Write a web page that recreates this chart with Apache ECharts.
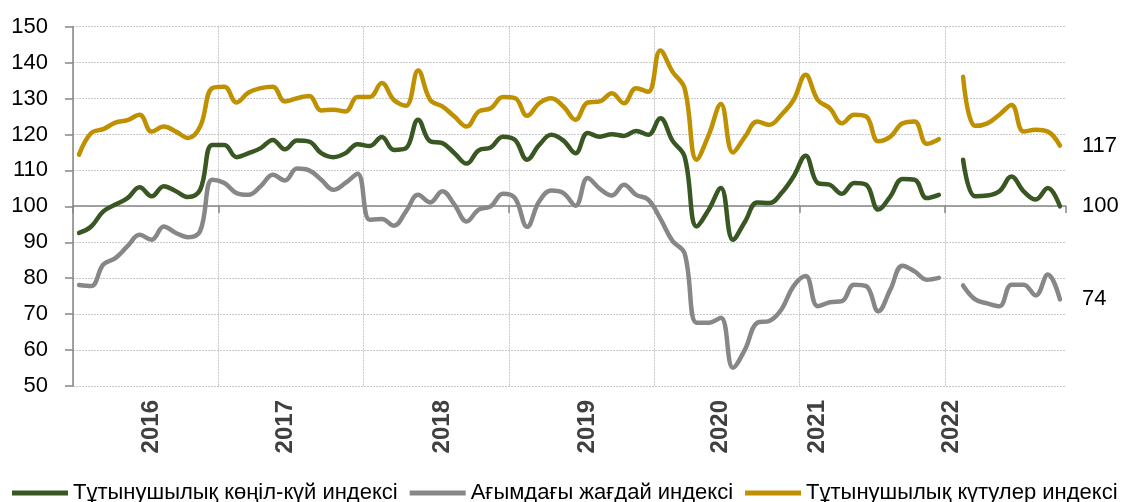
<!DOCTYPE html>
<html>
<head>
<meta charset="utf-8">
<script src="https://cdn.jsdelivr.net/npm/echarts@6/dist/echarts.min.js"></script>
<style>
html,body{margin:0;padding:0;background:#fff;}
#chart{width:1128px;height:502px;}
</style>
</head>
<body>
<div id="chart"></div>
<script>
// Monthly categories Jan 2016 - Oct 2022
const years = ['2016','2017','2018','2019','2020','2021','2022'];
const categories = [];
years.forEach(y => {
  for (let m = 1; m <= 12; m++) {
    if (y === '2022' && m > 10) break;
    categories.push(y + '-' + String(m).padStart(2, '0'));
  }
});

// Year tick labels and the category index where each one is drawn
const yearLabels = ['2016','2017','2018','2019','2020','2021','2022'];
const yearLabelIdx = [6, 17, 30, 42, 53, 61, 72];

const seriesNames = [
  'Тұтынушылық көңіл-күй индексі',
  'Ағымдағы жағдай индексі',
  'Тұтынушылық күтулер индексі'
];

const sentiment = [
  92.6, 94.4, 98.6, 100.5, 102.3, 105.3, 102.8, 105.6, 104.2, 102.6, 104.6, 117.1,
  117.1, 113.7, 114.8, 116.2, 118.5, 115.9, 118.3, 118.0, 114.8, 113.7, 114.8, 117.3,
  116.8, 119.3, 115.7, 116.2, 124.1, 118.1, 117.6, 114.8, 111.9, 115.6, 116.4, 119.4,
  118.5, 113.0, 117.1, 119.9, 118.3, 114.8, 120.4, 119.4, 120.1, 119.6, 121.0, 119.9,
  124.5, 118.3, 113.9, 94.4, 99.1, 105.1, 90.7, 95.8, 101.1, 100.9, 103.7, 108.3,
  114.1, 106.5, 106.0, 103.5, 106.5, 106.0, 99.1, 102.8, 107.6, 107.4, 102.3, 103.2,
  null, 113.0, 102.8, 103.0, 104.2, 108.3, 104.2, 101.9, 105.1, 100.0
];

const current = [
  78.1, 77.8, 83.8, 85.6, 88.9, 92.1, 90.7, 94.4, 92.6, 91.4, 93.1, 107.4,
  106.5, 103.7, 103.2, 105.6, 108.8, 107.2, 110.5, 110.0, 107.4, 104.6, 106.5, 109.1,
  96.3, 96.5, 94.6, 98.6, 103.2, 101.1, 104.2, 100.5, 95.8, 99.1, 100.0, 103.5,
  102.3, 94.3, 101.4, 104.4, 103.7, 100.2, 107.9, 104.9, 103.0, 106.0, 103.2, 101.9,
  96.6, 90.4, 87.0, 67.6, 67.6, 69.0, 55.1, 60.2, 67.6, 68.1, 71.3, 77.8,
  80.6, 72.2, 73.3, 73.6, 78.2, 77.8, 70.8, 76.9, 83.5, 81.9, 79.6, 80.1,
  null, 78.0, 74.1, 73.0, 72.2, 78.2, 78.2, 75.2, 81.0, 74.1
];

const expectations = [
  114.4, 120.4, 121.5, 123.3, 124.0, 125.5, 120.8, 122.2, 120.8, 119.0, 122.2, 132.9,
  133.3, 128.9, 131.7, 132.9, 133.3, 129.2, 130.1, 130.7, 126.7, 126.9, 126.4, 130.4,
  130.4, 134.3, 129.6, 128.0, 137.8, 129.6, 127.8, 125.0, 122.2, 126.4, 127.3, 130.4,
  130.1, 125.2, 128.7, 130.1, 127.8, 124.1, 128.9, 129.2, 131.5, 128.7, 132.9, 131.9,
  143.4, 137.5, 132.9, 113.0, 119.9, 128.5, 115.0, 119.4, 123.6, 122.7, 125.5, 129.6,
  136.6, 129.6, 127.3, 123.1, 125.5, 125.0, 118.1, 119.4, 123.1, 123.6, 117.4, 118.7,
  null, 136.1, 122.4, 123.1, 125.5, 128.2, 120.8, 121.3, 120.8, 116.9
];

const colors = ['#385723', '#878787', '#bf9000'];
const FONT = '"Liberation Sans", Arial, sans-serif';

const chart = echarts.init(document.getElementById('chart'), null, {renderer: 'canvas'});

function lineSeries(name, data, color) {
  return {
    name: name,
    type: 'line',
    data: data,
    xAxisIndex: 0,
    smooth: 0.4,
    symbol: 'none',
    connectNulls: false,
    lineStyle: {width: 4.5, color: color, cap: 'round', join: 'round'},
    itemStyle: {color: color},
    endLabel: {
      show: true,
      distance: 22,
      formatter: p => String(Math.round(p.value)),
      fontFamily: FONT,
      fontSize: 22,
      color: '#000'
    }
  };
}

chart.setOption({
  animation: false,
  textStyle: {fontFamily: FONT},
  grid: {left: 73, right: 62, top: 26.7, bottom: 116, containLabel: false},
  legend: {
    left: 12,
    top: 481,
    width: 1116,
    padding: 0,
    itemGap: 12,
    icon: 'rect',
    itemWidth: 56,
    itemHeight: 5,
    textStyle: {fontFamily: FONT, fontSize: 22, color: '#000', lineHeight: 24},
    data: seriesNames
  },
  xAxis: [
    {
      type: 'category',
      data: categories,
      boundaryGap: true,
      position: 'bottom',
      axisLine: {show: false},
      axisTick: {show: false, interval: 11},
      splitLine: {show: true, interval: 11, showMaxLine: false,
        lineStyle: {color: '#c8c8c8', type: [2, 1], width: 1}},
      axisLabel: {
        interval: (idx) => yearLabelIdx.indexOf(idx) >= 0,
        formatter: (v, idx) => {
          const k = yearLabelIdx.indexOf(idx);
          return k >= 0 ? yearLabels[k] : '';
        },
        rotate: 90,
        margin: 14,
        fontFamily: FONT,
        fontSize: 24,
        fontWeight: 'bold',
        color: '#404040'
      }
    },
    {
      type: 'category',
      data: categories,
      boundaryGap: true,
      position: 'bottom',
      offset: -180,
      axisLine: {show: true, lineStyle: {color: '#868686', width: 1.5}},
      axisTick: {show: true, interval: 11, length: 7, lineStyle: {color: '#868686', width: 1.5}},
      axisLabel: {show: false},
      splitLine: {show: false}
    }
  ],
  yAxis: {
    type: 'value',
    min: 50,
    max: 150,
    interval: 10,
    axisLine: {show: true, lineStyle: {color: '#868686', width: 1.5}},
    axisTick: {show: true, length: 8, lineStyle: {color: '#868686', width: 1.5}},
    splitLine: {show: true, lineStyle: {color: '#c8c8c8', type: [2, 1], width: 1}},
    axisLabel: {fontFamily: FONT, fontSize: 22, color: '#000', margin: 25}
  },
  series: [
    lineSeries(seriesNames[0], sentiment, colors[0]),
    lineSeries(seriesNames[1], current, colors[1]),
    lineSeries(seriesNames[2], expectations, colors[2])
  ]
});
</script>
</body>
</html>
